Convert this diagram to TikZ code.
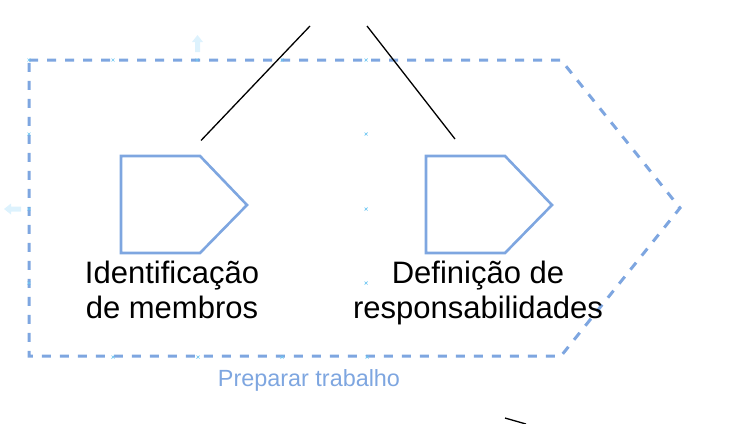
\documentclass[tikz,border=0pt]{standalone}
\usepackage{fontspec}
\setmainfont{Liberation Sans}
\definecolor{dioblue}{HTML}{7EA6E0}
\definecolor{hintblue}{HTML}{DDF2FD}
\definecolor{ptblue}{HTML}{6CC6F2}
\tikzset{
  outershape/.style={draw=dioblue, line width=3pt, dash pattern=on 9pt off 9pt, line join=miter},
  stepshape/.style={draw=dioblue, line width=2.6pt, line join=miter},
  maintext/.style={anchor=base, inner sep=0pt, font=\fontsize{31}{35}\selectfont, text=black},
  grouplabel/.style={anchor=base, inner sep=0pt, font=\fontsize{23.4}{27}\selectfont, text=dioblue},
  link/.style={draw=black, line width=1.3pt},
  hintarrow/.style={fill=hintblue, draw=none},
  cpoint/.style={draw=ptblue, line width=0.7pt}
}
\begin{document}
\begin{tikzpicture}[x=1pt,y=-1pt]
\useasboundingbox (0,0) rectangle (736,423);

% outer group shape
\coordinate (oTL) at (29,60);
\coordinate (oTR) at (561,60);
\coordinate (oP) at (680,208);
\coordinate (oBR) at (561,356);
\coordinate (oBL) at (29,356);
\draw[outershape] (oTL) -- (oTR) -- (oP) -- (oBR) -- (oBL) -- cycle;

% step shapes
\coordinate (aTL) at (121,156);
\coordinate (aTR) at (200,156);
\coordinate (aP) at (247,205);
\coordinate (aBR) at (200,253);
\coordinate (aBL) at (121,253);
\draw[stepshape] (aTL) -- (aTR) -- (aP) -- (aBR) -- (aBL) -- cycle;

\coordinate (bTL) at (426,156);
\coordinate (bTR) at (505,156);
\coordinate (bP) at (552,205);
\coordinate (bBR) at (505,253);
\coordinate (bBL) at (426,253);
\draw[stepshape] (bTL) -- (bTR) -- (bP) -- (bBR) -- (bBL) -- cycle;

% texts
\node[maintext] (a1) at (172,283) {Identificação};
\node[maintext] (a2) at (172,318) {de membros};
\node[maintext] (b1) at (478,283) {Definição de};
\node[maintext] (b2) at (478,318) {responsabilidades};
\node[grouplabel] (g) at (309,386) {Preparar trabalho};

% connectors
\coordinate (l1s) at (310,26);
\coordinate (l1e) at (201,140.5);
\coordinate (l2s) at (367,26);
\coordinate (l2e) at (455,139);
\coordinate (l3s) at (505,418);
\coordinate (l3e) at (526,424);
\draw[link] (l1s) -- (l1e);
\draw[link] (l2s) -- (l2e);
\draw[link] (l3s) -- (l3e);

% hint arrows
\fill[hintarrow] (195,52) -- (195,42) -- (192,42) -- (197.5,35) -- (203,42) -- (200,42) -- (200,52) -- cycle;
\fill[hintarrow] (21,206.5) -- (11,206.5) -- (11,203.5) -- (4,209) -- (11,214.5) -- (11,211.5) -- (21,211.5) -- cycle;

% connection points
\foreach \px/\py in {29/60,113/60,197/60,282/60,366/60,29/134,29/209,29/283,366/134,366/209,366/283,113/357,198/357,282/357,367/357}{
  \draw[cpoint] (\px-1.5,\py-1.5) -- (\px+1.5,\py+1.5) (\px-1.5,\py+1.5) -- (\px+1.5,\py-1.5);
}
\end{tikzpicture}
\end{document}
